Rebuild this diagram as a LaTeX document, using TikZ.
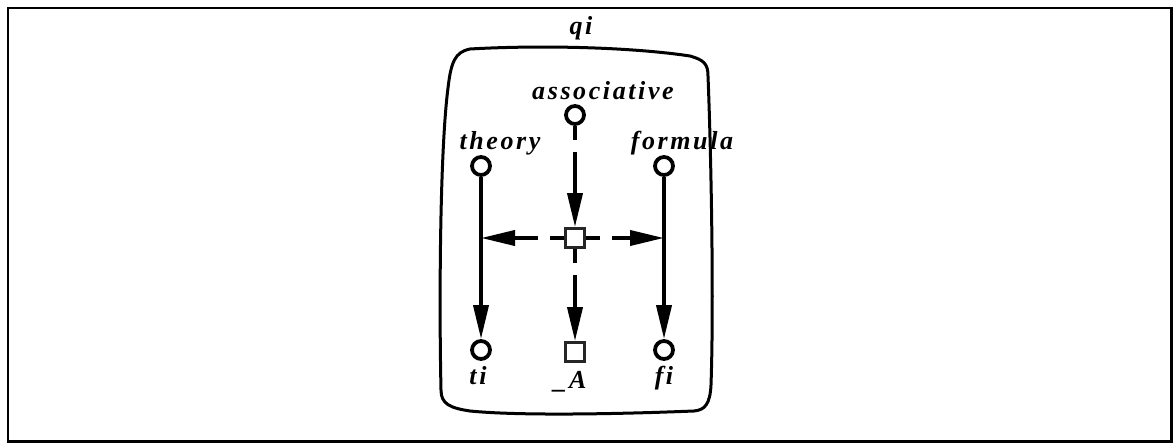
\documentclass[tikz,border=0pt]{standalone}
\usepackage{fontspec}
\setmainfont{Liberation Serif}
\newfontfamily\labfont[LetterSpace=10]{Liberation Serif Bold Italic}
\usetikzlibrary{arrows.meta}
\tikzset{
  x=1pt, y=-1pt,
  lbl/.style={anchor=base, inner sep=0pt, font=\labfont\fontsize{26}{28}\selectfont},
  port/.style={circle, draw, line width=3.8pt, minimum size=18pt, inner sep=0pt},
  boxnode/.style={rectangle, draw=black!85, fill=white, line width=2.8pt, minimum size=19pt, inner sep=0pt},
  solidarrow/.style={line width=3.8pt, -{Triangle[length=34pt, width=15pt]}},
  dasharrow/.style={line width=3.8pt, dash pattern=on 14pt off 12pt on 300pt off 12pt, -{Triangle[length=34pt, width=15pt]}},
}
\begin{document}
\begin{tikzpicture}
\useasboundingbox (0,0) rectangle (1173,443);
\draw[line width=2.8pt] (8,8) rectangle (1171.5,441.5);
% rounded container
\draw[line width=3pt]
  (470,49) .. controls (540,45) and (630,47) .. (690,56)
  .. controls (704,60) and (708,64) .. (708,76)
  .. controls (711,150) and (714,300) .. (711,385)
  .. controls (710,404) and (705,410) .. (694,411)
  .. controls (620,414) and (520,416) .. (470,411)
  .. controls (450,408) and (441,404) .. (441,390)
  .. controls (439,300) and (440,150) .. (448,88)
  .. controls (451,62) and (455,52) .. (470,49) -- cycle;
% labels
\node[lbl] (lqi) at (581,35) {qi};
\node[lbl] (lassoc) at (603,100) {associative};
\node[lbl] (ltheory) at (500,150) {theory};
\node[lbl] (lformula) at (682,150) {formula};
\node[lbl] (lti) at (478,385) {ti};
\node[lbl] (lA) at (570,389) {\_A};
\node[lbl] (lfi) at (664,385) {fi};
% nodes
\node[port] (assoc) at (575,115) {};
\node[port] (theory) at (481,166) {};
\node[port] (formula) at (664,166) {};
\node[port] (ti) at (481,350) {};
\node[port] (fi) at (664,350) {};
\node[boxnode] (sq) at (575,238) {};
\node[boxnode] (A) at (575,352) {};
\coordinate (jl) at (481,238);
\coordinate (jr) at (664,238);
% connectors
\draw[solidarrow] (theory) -- (ti);
\draw[solidarrow] (formula) -- (fi);
\draw[dasharrow] (assoc) -- (sq);
\draw[dasharrow] (sq) -- (jl);
\draw[dasharrow] (sq) -- (jr);
\draw[dasharrow] (sq) -- (A);
\end{tikzpicture}
\end{document}
